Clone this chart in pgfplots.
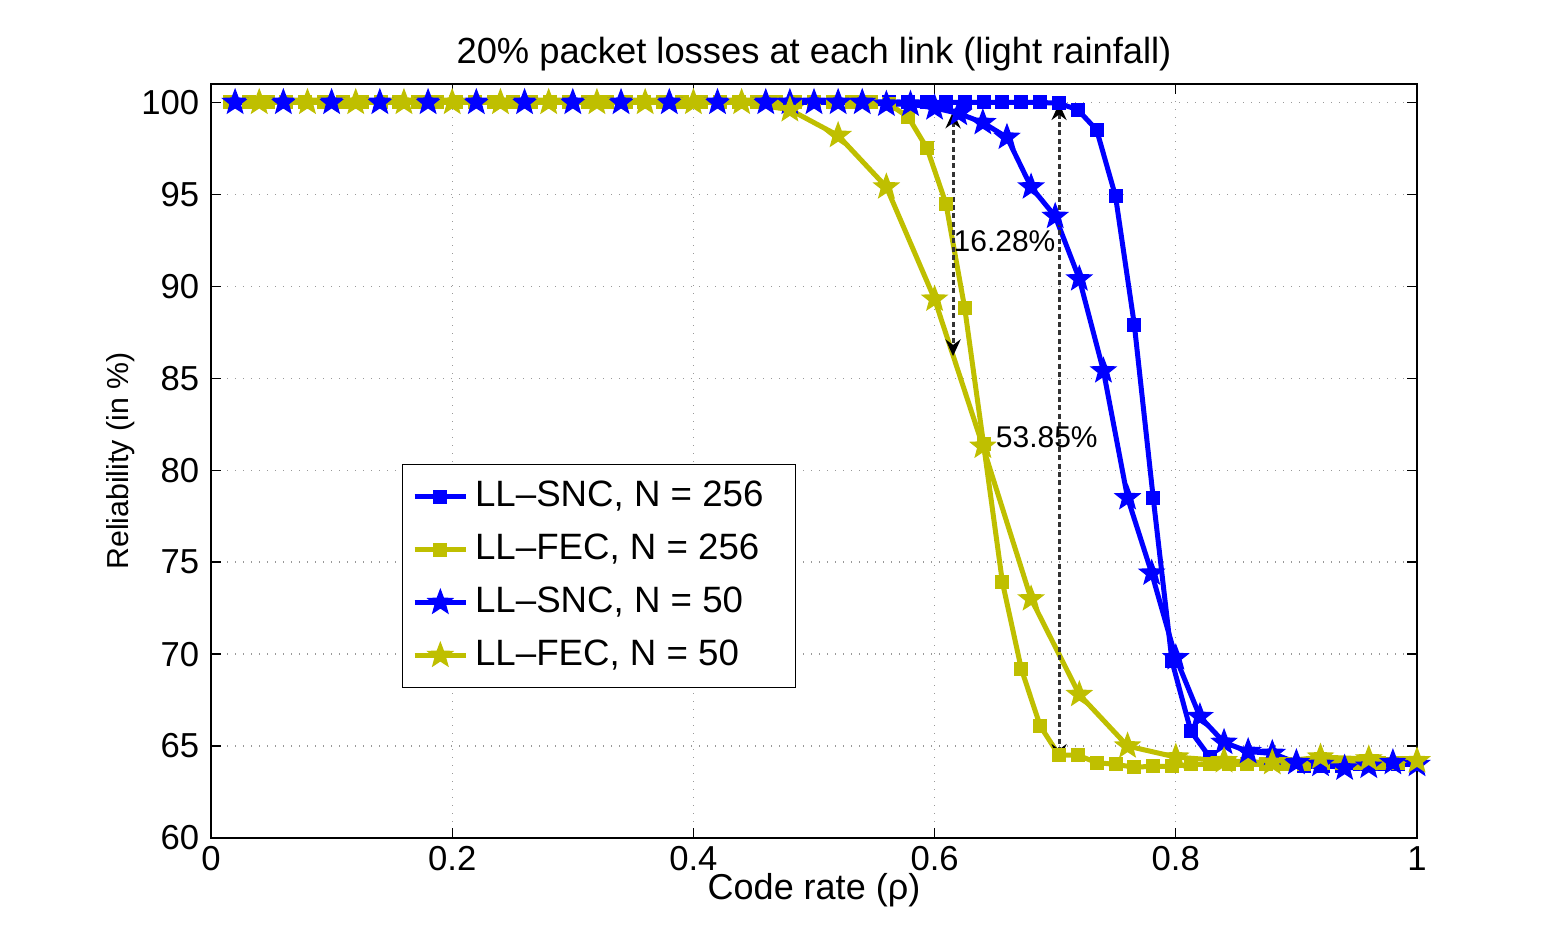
\documentclass[border=0pt]{standalone}
\usepackage{pgfplots}
\pgfplotsset{compat=1.18}
\usepackage{pgfplotstable}
\usepackage{fontspec}
\setmainfont{Liberation Sans}
\usetikzlibrary{arrows.meta}

\definecolor{snc}{RGB}{0,0,255}
\definecolor{fec}{RGB}{191,191,0}

% filled five-point star, like MATLAB's 'p' marker
\pgfdeclareplotmark{fstar}{%
  \pgfpathmoveto{\pgfpointpolar{90}{\pgfplotmarksize}}%
  \pgfpathlineto{\pgfpointpolar{126}{0.42\pgfplotmarksize}}%
  \pgfpathlineto{\pgfpointpolar{162}{\pgfplotmarksize}}%
  \pgfpathlineto{\pgfpointpolar{198}{0.42\pgfplotmarksize}}%
  \pgfpathlineto{\pgfpointpolar{234}{\pgfplotmarksize}}%
  \pgfpathlineto{\pgfpointpolar{270}{0.42\pgfplotmarksize}}%
  \pgfpathlineto{\pgfpointpolar{306}{\pgfplotmarksize}}%
  \pgfpathlineto{\pgfpointpolar{342}{0.42\pgfplotmarksize}}%
  \pgfpathlineto{\pgfpointpolar{18}{\pgfplotmarksize}}%
  \pgfpathlineto{\pgfpointpolar{54}{0.42\pgfplotmarksize}}%
  \pgfpathclose
  \pgfusepathqfillstroke
}

% LL-SNC, N = 256 (x = k/64)
\pgfplotstableread{
x y
0.015625 100
0.03125 100
0.046875 100
0.0625 100
0.078125 100
0.09375 100
0.109375 100
0.125 100
0.140625 100
0.15625 100
0.171875 100
0.1875 100
0.203125 100
0.21875 100
0.234375 100
0.25 100
0.265625 100
0.28125 100
0.296875 100
0.3125 100
0.328125 100
0.34375 100
0.359375 100
0.375 100
0.390625 100
0.40625 100
0.421875 100
0.4375 100
0.453125 100
0.46875 100
0.484375 100
0.5 100
0.515625 100
0.53125 100
0.546875 100
0.5625 100
0.578125 100
0.59375 100
0.609375 100
0.625 100
0.640625 100
0.65625 100
0.671875 100
0.6875 100
0.703125 99.95
0.71875 99.6
0.734375 98.5
0.75 94.9
0.765625 87.9
0.78125 78.5
0.796875 69.6
0.8125 65.8
0.828125 64.4
0.84375 64.1
0.859375 64.0
0.875 64.0
0.890625 64.0
0.90625 63.9
0.921875 63.9
0.9375 63.9
0.953125 64.0
0.96875 64.0
0.984375 64.0
1 64.0
}\sncbig

% LL-FEC, N = 256
\pgfplotstableread{
x y
0.015625 100
0.03125 100
0.046875 100
0.0625 100
0.078125 100
0.09375 100
0.109375 100
0.125 100
0.140625 100
0.15625 100
0.171875 100
0.1875 100
0.203125 100
0.21875 100
0.234375 100
0.25 100
0.265625 100
0.28125 100
0.296875 100
0.3125 100
0.328125 100
0.34375 100
0.359375 100
0.375 100
0.390625 100
0.40625 100
0.421875 100
0.4375 100
0.453125 100
0.46875 100
0.484375 100
0.5 100
0.515625 100
0.53125 100
0.546875 100
0.5625 99.9
0.578125 99.2
0.59375 97.5
0.609375 94.5
0.625 88.8
0.640625 81.4
0.65625 73.9
0.671875 69.2
0.6875 66.1
0.703125 64.5
0.71875 64.5
0.734375 64.1
0.75 64.0
0.765625 63.85
0.78125 63.9
0.796875 63.9
0.8125 64.0
0.828125 64.0
0.84375 64.0
0.859375 64.0
0.875 64.0
0.890625 64.0
0.90625 64.0
0.921875 64.1
0.9375 64.1
0.953125 64.1
0.96875 64.1
0.984375 64.1
1 64.1
}\fecbig

% LL-SNC, N = 50
\pgfplotstableread{
x y
0.02 100
0.06 100
0.10 100
0.14 100
0.18 100
0.22 100
0.26 100
0.30 100
0.34 100
0.38 100
0.42 100
0.46 100
0.48 100
0.50 100
0.52 100
0.54 100
0.56 99.9
0.58 99.9
0.60 99.7
0.62 99.4
0.64 98.9
0.66 98.1
0.68 95.4
0.70 93.8
0.72 90.4
0.74 85.4
0.76 78.5
0.78 74.4
0.80 69.8
0.82 66.6
0.84 65.2
0.86 64.7
0.88 64.6
0.90 64.1
0.92 64.0
0.94 63.8
0.96 63.9
0.98 64.1
1.00 64.0
}\sncsmall

% LL-FEC, N = 50
\pgfplotstableread{
x y
0.04 100
0.08 100
0.12 100
0.16 100
0.20 100
0.24 100
0.28 100
0.32 100
0.36 100
0.40 100
0.44 100
0.48 99.6
0.52 98.2
0.56 95.4
0.60 89.3
0.64 81.3
0.68 73.0
0.72 67.8
0.76 65.0
0.80 64.4
0.84 64.2
0.88 64.1
0.92 64.4
0.96 64.3
1.00 64.2
}\fecsmall

\begin{document}
\begin{tikzpicture}
\begin{axis}[
    scale only axis,
    width=361.8pt, height=226.2pt,
    xmin=0, xmax=1,
    ymin=60, ymax=101,
    xtick={0,0.2,0.4,0.6,0.8,1},
    ytick={60,65,70,75,80,85,90,95,100},
    xticklabels={0,0.2,0.4,0.6,0.8,1},
    grid=major,
    grid style={dotted, gray!80},
    tick align=inside,
    major tick length=3pt,
    tick style={black, thin},
    axis line style={black, thin},
    /pgf/number format/assume math mode=true,
    tick label style={font=\fontsize{10.4}{12}\selectfont},
    xticklabel style={yshift=1pt},
    title={20\% packet losses at each link (light rainfall)},
    title style={font=\fontsize{10.9}{12}\selectfont, yshift=-5.5pt},
    xlabel={Code rate (ρ)},
    ylabel={Reliability (in \%)},
    xlabel style={font=\fontsize{10.8}{12}\selectfont, yshift=6pt},
    ylabel style={font=\fontsize{9.1}{11}\selectfont, yshift=-5pt},
    legend cell align=left,
    legend style={at={(0.158,0.496)}, anchor=north west,
        font=\fontsize{11}{13}\selectfont, draw=black, thin,
        row sep=2.7pt, inner xsep=3pt, inner ysep=3pt},
    legend image code/.code={
        \draw[mark repeat=2, mark phase=2, #1]
        plot coordinates {(0cm,0cm) (0.27cm,0cm) (0.54cm,0cm)};},
    every axis plot/.append style={line width=1.5pt,
        mark options={solid, line width=0.4pt}},
]
\addplot[snc, mark=square*, mark size=1.9pt] table {\sncbig};
\addlegendentry{LL\textendash SNC, N = 256\rule{4.5pt}{0pt}}
\addplot[fec, mark=square*, mark size=1.9pt] table {\fecbig};
\addlegendentry{LL\textendash FEC, N = 256}
\addplot[snc, mark=fstar, mark size=3.8pt] table {\sncsmall};
\addlegendentry{LL\textendash SNC, N = 50}
\addplot[fec, mark=fstar, mark size=3.8pt] table {\fecsmall};
\addlegendentry{LL\textendash FEC, N = 50}

\addplot[black!80, densely dotted, line width=0.9pt, forget plot,
    {Stealth[length=5pt,width=4.5pt,black]}-{Stealth[length=5pt,width=4.5pt,black]}]
    coordinates {(0.6153,99.5) (0.6153,86.2)};
\addplot[black!80, densely dotted, line width=0.9pt, forget plot,
    {Stealth[length=5pt,width=4.5pt,black]}-{Stealth[length=5pt,width=4.5pt,black]}]
    coordinates {(0.7032,99.95) (0.7032,64.2)};
\node[font=\fontsize{9}{10}\selectfont] at (axis cs:0.658,92.45) {16.28\%};
\node[font=\fontsize{9}{10}\selectfont] at (axis cs:0.693,81.8) {53.85\%};
\end{axis}
\path (current axis.south west) ++(-63.3pt,-29.4pt) coordinate (bbA);
\path (current axis.south west) ++(402.3pt,251.4pt) coordinate (bbB);
\path[use as bounding box] (bbA) rectangle (bbB);
\end{tikzpicture}
\end{document}
